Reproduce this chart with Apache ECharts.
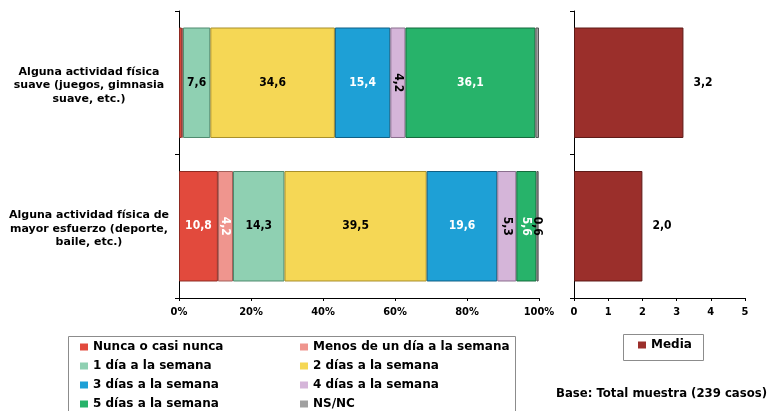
<!DOCTYPE html>
<html>
<head>
<meta charset="utf-8">
<script src="https://cdn.jsdelivr.net/npm/echarts@6/dist/echarts.min.js"></script>
<style>
  html, body { margin: 0; padding: 0; background: #fff; }
  #chart { width: 769px; height: 411px; }
</style>
</head>
<body>
<div id="chart"></div>
<script>
// Activity rows (bottom row first on the axis: ECharts draws category 0 at the bottom)
const categories = [
  'Alguna actividad física de\nmayor esfuerzo (deporte,\nbaile, etc.)',
  'Alguna actividad física\nsuave (juegos, gimnasia\nsuave, etc.)'
];

// Frequency groups, percentage per row [mayor esfuerzo, suave]
const seriesNames = [
  'Nunca o casi nunca', 'Menos de un día a la semana',
  '1 día a la semana', '2 días a la semana',
  '3 días a la semana', '4 días a la semana',
  '5 días a la semana', 'NS/NC'
];
const nunca      = [10.8, 0.8];
const menos      = [4.2, 0.3];
const unDia      = [14.3, 7.6];
const dosDias    = [39.5, 34.6];
const tresDias   = [19.6, 15.4];
const cuatroDias = [5.3, 4.2];
const cincoDias  = [5.6, 36.1];
const nsnc       = [0.6, 1.0];
// Which values carry a printed label
const labelled = {
  nunca: [true, false], menos: [true, false], unDia: [true, true], dosDias: [true, true],
  tresDias: [true, true], cuatroDias: [true, true], cincoDias: [true, true], nsnc: [true, false]
};

// Average days per week
const media = [2.0, 3.2];

const pctTicks = [0, 20, 40, 60, 80, 100];
const mediaTicks = [0, 1, 2, 3, 4, 5];

const FONT = '"DejaVu Sans Condensed", "DejaVu Sans", sans-serif';
const FONT_WIDE = '"DejaVu Sans", sans-serif';
const fmt = v => v.toFixed(1).replace('.', ',');

const palette = {
  nunca:      { fill: '#E24A3D', border: '#8E2A22', text: '#ffffff' },
  menos:      { fill: '#EF958E', border: '#A4605A', text: '#ffffff' },
  unDia:      { fill: '#8FD0B2', border: '#4E8A6E', text: '#000000' },
  dosDias:    { fill: '#F5D755', border: '#A88F2A', text: '#000000' },
  tresDias:   { fill: '#1EA0D6', border: '#0F5F85', text: '#ffffff' },
  cuatroDias: { fill: '#D5B5D9', border: '#8A6E8E', text: '#000000' },
  cincoDias:  { fill: '#27B36A', border: '#156B3D', text: '#ffffff' },
  nsnc:       { fill: '#A0A0A0', border: '#555555', text: '#000000' }
};
const seriesData = { nunca, menos, unDia, dosDias, tresDias, cuatroDias, cincoDias, nsnc };
const keys = Object.keys(seriesData);

const stackSeries = keys.map((k, i) => ({
  name: seriesNames[i],
  type: 'bar',
  stack: 'total',
  xAxisIndex: 0,
  yAxisIndex: 0,
  barWidth: '77%',
  itemStyle: { color: palette[k].fill, borderColor: palette[k].border, borderWidth: 1 },
  data: seriesData[k].map((v, j) => ({
    value: v,
    label: {
      show: labelled[k][j],
      position: 'inside',
      rotate: v < 6 ? -90 : 0,
      color: palette[k].text,
      fontFamily: FONT,
      fontWeight: 'bold',
      fontSize: 12,
      formatter: () => fmt(v)
    }
  }))
}));

const axisText = { fontFamily: FONT, fontWeight: 'bold', fontSize: 11, color: '#000' };
const legendText = { fontFamily: FONT_WIDE, fontWeight: 'bold', fontSize: 12, color: '#000', lineHeight: 14 };
const legendBase = {
  orient: 'vertical', padding: 0, itemWidth: 8, itemHeight: 7, itemGap: 5, itemTextGap: 0,
  icon: 'rect', itemStyle: { borderWidth: 0 }, textStyle: legendText
};

const catText = { fontFamily: FONT_WIDE, fontWeight: 'bold', fontSize: 11, color: '#000', lineHeight: 13.5, align: 'center' };

const option = {
  animation: false,
  backgroundColor: '#fff',
  grid: [
    { left: 179, right: 230, top: 11, bottom: 113 },
    { left: 574, right: 24, top: 11, bottom: 113 }
  ],
  xAxis: [
    {
      gridIndex: 0, type: 'value', min: pctTicks[0], max: pctTicks[pctTicks.length - 1], interval: 20,
      axisLine: { show: true, lineStyle: { color: '#000', width: 1 } },
      axisTick: { show: true, length: 3, lineStyle: { color: '#000' } },
      splitLine: { show: false },
      axisLabel: Object.assign({ margin: 9, formatter: '{value}%' }, axisText)
    },
    {
      gridIndex: 1, type: 'value', min: mediaTicks[0], max: mediaTicks[mediaTicks.length - 1], interval: 1,
      axisLine: { show: true, lineStyle: { color: '#000', width: 1 } },
      axisTick: { show: true, length: 3, lineStyle: { color: '#000' } },
      splitLine: { show: false },
      axisLabel: Object.assign({ margin: 9 }, axisText)
    }
  ],
  yAxis: [
    {
      gridIndex: 0, type: 'category', data: categories,
      axisLine: { show: true, lineStyle: { color: '#000', width: 1 } },
      axisTick: { show: true, length: 4, lineStyle: { color: '#000' } },
      axisLabel: {
        margin: 90, align: 'center',
        // a short spacer line above the text nudges the block slightly downward
        formatter: v => '{s|}\n' + v.split('\n').map(l => '{t|' + l + '}').join('\n'),
        rich: { s: { height: 5, lineHeight: 5, fontSize: 5 }, t: catText }
      }
    },
    {
      gridIndex: 1, type: 'category', data: categories,
      axisLine: { show: true, lineStyle: { color: '#000', width: 1 } },
      axisTick: { show: true, length: 4, lineStyle: { color: '#000' } },
      axisLabel: { show: false }
    }
  ],
  legend: [
    Object.assign({ data: [seriesNames[0], seriesNames[2], seriesNames[4], seriesNames[6]], left: 80, top: 340 }, legendBase),
    Object.assign({ data: [seriesNames[1], seriesNames[3], seriesNames[5], seriesNames[7]], left: 300, top: 340 }, legendBase),
    Object.assign({}, legendBase, { data: ['Media'], orient: 'horizontal', left: 638, top: 338 })
  ],
  graphic: [
    { type: 'rect', left: 66, top: 334, shape: { width: 447, height: 80 },
      style: { fill: 'none', stroke: '#8c8c8c', lineWidth: 1 }, silent: true, z: -1 },
    { type: 'rect', left: 621, top: 332, shape: { width: 80, height: 26 },
      style: { fill: 'none', stroke: '#8c8c8c', lineWidth: 1 }, silent: true, z: -1 },
    { type: 'text', right: 2, top: 388,
      style: { text: 'Base: Total muestra (239 casos)', fill: '#000', font: 'bold 11.7px ' + FONT_WIDE } }
  ],
  series: stackSeries.concat([
    {
      name: 'Media',
      type: 'bar',
      xAxisIndex: 1,
      yAxisIndex: 1,
      barWidth: '77%',
      itemStyle: { color: '#9B2F2B', borderColor: '#5E1A17', borderWidth: 1 },
      label: {
        show: true, position: 'right', distance: 10,
        fontFamily: FONT, fontWeight: 'bold', fontSize: 12, color: '#000',
        formatter: p => fmt(p.value)
      },
      data: media
    }
  ])
};

const chart = echarts.init(document.getElementById('chart'), null, { renderer: 'canvas' });
chart.setOption(option);
</script>
</body>
</html>
